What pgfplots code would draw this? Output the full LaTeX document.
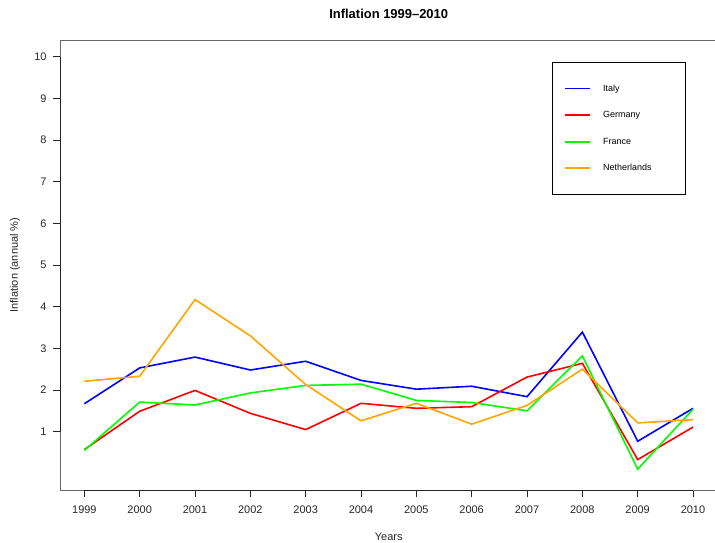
\documentclass[border=0pt]{standalone}
\usepackage{fontspec}
\setmainfont{Liberation Sans}
\usepackage{pgfplots}
\pgfplotsset{compat=1.18}
\definecolor{rblue}{RGB}{0,0,255}
\definecolor{rred}{RGB}{255,0,0}
\definecolor{rgreen}{RGB}{0,255,0}
\definecolor{rorange}{RGB}{255,165,0}
\begin{document}
\begin{tikzpicture}
\begin{axis}[
  scale only axis,
  width=657.4bp, height=450bp,
  xmin=1998.56, xmax=2010.44,
  ymin=-0.4, ymax=10.4,
  xtick={1999,...,2010},
  ytick={1,...,10},
  /pgf/number format/1000 sep={},
  /pgf/number format/assume math mode=true,
  tick align=outside,
  major tick length=7bp,
  xtick pos=bottom, ytick pos=left,
  tick style={black!85, line width=0.8bp},
  axis line style={black!60, line width=0.8bp},
  ticklabel style={font=\fontsize{11}{13}\selectfont, text=black!85},
  xticklabel style={anchor=center, yshift=-13bp},
  yticklabel style={anchor=east, xshift=-3bp},
  xlabel={Years},
  ylabel={Inflation (annual \%)},
  xlabel style={at={(axis description cs:0.5,-0.1044)}, anchor=center, font=\fontsize{11}{13}\selectfont, text=black!85},
  ylabel style={at={(axis description cs:-0.0685,0.5)}, anchor=center, font=\fontsize{11}{13}\selectfont, text=black!85},
  title={Inflation 1999--2010},
  title style={at={(axis description cs:0.5,1.0444)}, anchor=center, font=\bfseries\fontsize{13}{15}\selectfont},
  every axis plot/.append style={line width=1.6bp},
]
\addplot[color=rblue] coordinates {
  (1999,1.67) (2000,2.53) (2001,2.79) (2002,2.48) (2003,2.69) (2004,2.23)
  (2005,2.02) (2006,2.09) (2007,1.84) (2008,3.39) (2009,0.77) (2010,1.56)
};
\addplot[color=rred] coordinates {
  (1999,0.57) (2000,1.49) (2001,1.99) (2002,1.44) (2003,1.05) (2004,1.68)
  (2005,1.56) (2006,1.60) (2007,2.31) (2008,2.64) (2009,0.33) (2010,1.11)
};
\addplot[color=rgreen] coordinates {
  (1999,0.55) (2000,1.71) (2001,1.64) (2002,1.93) (2003,2.11) (2004,2.14)
  (2005,1.75) (2006,1.70) (2007,1.50) (2008,2.82) (2009,0.10) (2010,1.54)
};
\addplot[color=rorange] coordinates {
  (1999,2.21) (2000,2.33) (2001,4.17) (2002,3.30) (2003,2.13) (2004,1.26)
  (2005,1.68) (2006,1.18) (2007,1.63) (2008,2.50) (2009,1.21) (2010,1.29)
};
\draw[black!85, line width=0.8bp] (axis cs:1999,-0.4) -- (axis cs:2010,-0.4);
\draw[black!85, line width=0.8bp] (axis cs:1998.56,1) -- (axis cs:1998.56,10);
\end{axis}
% legend box, drawn in bp from the lower left corner of the plot area
\draw[black, line width=0.8bp] (492bp,296bp) rectangle (625bp,428bp);
\draw[rblue, line width=1.2bp] (505bp,401.3bp) -- (530bp,401.3bp);
\draw[rred, line width=1.2bp] (505bp,375bp) -- (530bp,375bp);
\draw[rgreen, line width=1.2bp] (505bp,348bp) -- (530bp,348bp);
\draw[rorange, line width=1.2bp] (505bp,322bp) -- (530bp,322bp);
\begin{scope}[every node/.style={anchor=west, inner sep=0pt, text height=7bp, text depth=2bp, font=\fontsize{9}{11}\selectfont}]
\node at (543bp,401.3bp) {Italy};
\node at (543bp,375bp) {Germany};
\node at (543bp,348bp) {France};
\node at (543bp,322bp) {Netherlands};
\end{scope}
\pgfresetboundingbox
\path[use as bounding box] (-60bp,-53bp) rectangle (655bp,490bp);
\end{tikzpicture}
\end{document}
